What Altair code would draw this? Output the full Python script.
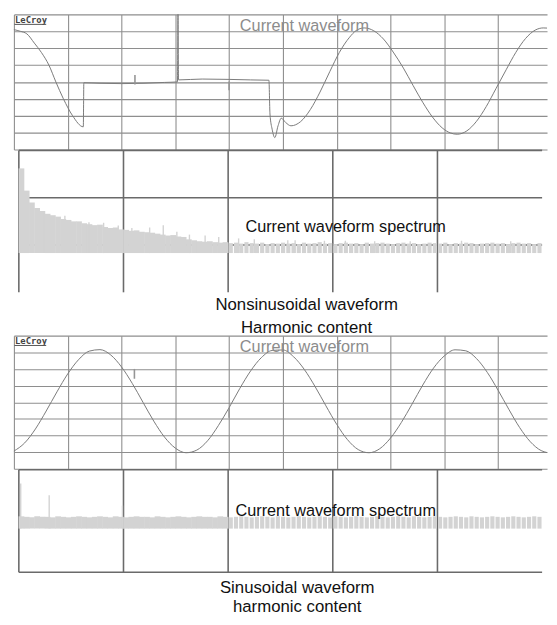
import altair as alt
import pandas as pd

# ---------------- data (oscilloscope screen divisions) ----------------
# Top trace: non-sinusoidal current waveform
wave1_x = [0.0, 0.12, 0.24, 0.38, 0.51, 0.65, 0.78, 0.92, 1.09, 1.29,
           1.30, 1.6, 2.0, 2.4, 2.8, 3.04, 3.05, 3.06, 3.5, 4.0, 4.4, 4.74,
           4.76, 4.80, 4.85, 4.91, 4.97, 5.05, 5.15,
           5.33, 5.51, 5.69, 5.87, 6.05, 6.24, 6.36, 6.51,
           6.69, 6.87, 7.05, 7.24, 7.42, 7.6, 7.78, 7.96, 8.11, 8.24,
           8.42, 8.6, 8.78, 8.96, 9.15, 9.33, 9.51, 9.69, 9.84, 9.91]
wave1_y = [3.1, 3.0, 2.85, 2.3, 1.75, 1.0, 0.0, -1.0, -2.0, -2.66,
           -0.05, -0.08, -0.1, -0.08, -0.03, 0.0, 4.0, 0.12, 0.17, 0.15, 0.12, 0.1,
           -1.9, -2.8, -3.3, -2.6, -2.15, -2.4, -2.6,
           -2.35, -1.64, -0.6, 0.6, 1.75, 2.65, 3.04, 3.2,
           3.03, 2.54, 1.77, 0.82, -0.21, -1.21, -2.08, -2.72, -3.02, -3.1,
           -2.9, -2.33, -1.46, -0.4, 0.72, 1.75, 2.57, 3.07, 3.2, 3.19]

# Lower trace: sinusoidal current waveform
wave2_x = [0.0, 0.2, 0.4, 0.6, 0.8, 1.0, 1.2, 1.4, 1.6, 1.8,
           2.0, 2.2, 2.4, 2.6, 2.8, 3.0, 3.2, 3.4, 3.6, 3.8,
           4.0, 4.2, 4.4, 4.6, 4.8, 5.0, 5.2, 5.4, 5.6, 5.8,
           6.0, 6.2, 6.4, 6.6, 6.8, 7.0, 7.2, 7.4, 7.6, 7.8,
           8.0, 8.2, 8.4, 8.6, 8.8, 9.0, 9.2, 9.4, 9.6, 9.8, 9.91]
wave2_y = [-2.94, -2.45, -1.61, -0.53, 0.62, 1.70, 2.55, 3.07, 3.16, 2.84,
           2.12, 1.13, -0.01, -1.14, -2.10, -2.76, -3.04, -2.88, -2.32, -1.41,
           -0.33, 0.83, 1.88, 2.68, 3.11, 3.14, 2.73, 1.96, 0.93, -0.22,
           -1.33, -2.25, -2.85, -3.04, -2.80, -2.16, -1.23, -0.12, 1.03, 2.05,
           2.78, 3.15, 3.09, 2.62, 1.79, 0.72, -0.43, -1.52, -2.38, -2.91, -3.03]

# Cursor marks on the traces
cursor1_x = [2.25, 4.0]
cursor1_top = [0.41, 0.02]
cursor1_bot = [-0.15, -0.49]
cursor2_x = [2.24, 4.0]
cursor2_top = [2.0, -0.35]
cursor2_bot = [1.41, -0.94]

# Spectra: 100 frequency bins across 5 screen divisions
spec_bins = [round(0.025 + 0.05 * i, 3) for i in range(100)]
spec1_level = [2.62, 2.15, 1.9, 1.78, 1.72, 1.66, 1.63, 1.6, 1.55, 1.53,
               1.5, 1.5, 1.46, 1.44, 1.42, 1.43, 1.38, 1.36, 1.37, 1.33,
               1.32, 1.3, 1.31, 1.28, 1.27, 1.26, 1.24, 1.22, 1.2, 1.21,
               1.18, 1.17, 1.12, 1.1, 1.08, 1.07, 1.08, 1.06, 1.05, 1.06,
               1.04, 1.05, 1.03, 1.06, 1.04, 1.03, 1.05, 1.02, 1.04, 1.03,
               1.05, 1.03, 1.04, 1.02, 1.05, 1.03, 1.04, 1.06, 1.03, 1.04,
               1.02, 1.04, 1.05, 1.03, 1.04, 1.02, 1.05, 1.03, 1.04, 1.05,
               1.03, 1.02, 1.04, 1.05, 1.03, 1.04, 1.02, 1.03, 1.05, 1.04,
               1.03, 1.05, 1.02, 1.04, 1.03, 1.05, 1.04, 1.02, 1.03, 1.04,
               1.05, 1.03, 1.04, 1.02, 1.04, 1.05, 1.03, 1.04, 1.02, 1.04]
spec1_floor = 0.83
spec1_spike_f = [0.24, 0.44, 0.67, 0.81, 0.95, 1.08, 1.25, 1.38, 1.51, 1.63,
                 1.78, 1.91, 2.1, 2.25, 2.57, 2.64, 2.92, 3.12, 3.4, 3.74, 4.23, 4.7]
spec1_spike_v = [1.68, 1.62, 1.48, 1.47, 1.41, 1.36, 1.37, 1.42, 1.28, 1.22,
                 1.2, 1.17, 1.14, 1.12, 1.1, 1.1, 1.09, 1.09, 1.08, 1.08, 1.09, 1.08]

spec2_level = [1.09, 1.08, 1.07, 1.09, 1.08, 1.08, 1.07, 1.09, 1.08, 1.07,
               1.08, 1.09, 1.08, 1.07, 1.08, 1.09, 1.08, 1.07, 1.09, 1.08,
               1.07, 1.08, 1.09, 1.08, 1.08, 1.07, 1.09, 1.08, 1.07, 1.08,
               1.09, 1.08, 1.07, 1.08, 1.09, 1.08, 1.08, 1.07, 1.09, 1.08,
               1.07, 1.08, 1.09, 1.08, 1.07, 1.08, 1.09, 1.08, 1.07, 1.09,
               1.08, 1.07, 1.08, 1.09, 1.08, 1.07, 1.08, 1.09, 1.08, 1.07,
               1.09, 1.08, 1.07, 1.08, 1.09, 1.08, 1.07, 1.08, 1.09, 1.08,
               1.07, 1.08, 1.09, 1.08, 1.07, 1.09, 1.08, 1.07, 1.08, 1.09,
               1.08, 1.07, 1.08, 1.09, 1.08, 1.07, 1.09, 1.08, 1.07, 1.08,
               1.09, 1.08, 1.07, 1.08, 1.09, 1.08, 1.07, 1.08, 1.09, 1.08]
spec2_floor = 0.85
spec2_spike_f = [0.018, 0.29, 0.99]
spec2_spike_v = [1.73, 1.5, 1.3]

# grid divisions
wave_grid_x = [0, 1, 2, 3, 4, 5, 6, 7, 8, 9]
wave_grid_y = [-4, -3, -2, -1, 0, 1, 2, 3, 4]
spec_grid_f = [0, 1, 2, 3, 4]
spec1_grid_v = [1, 2, 3]
spec2_grid_v = [0, 2]

title1_lines = ["Nonsinusoidal waveform", "Harmonic content"]
title2_lines = ["Sinusoidal waveform", "harmonic content"]

# ---------------- styling ----------------
FONT = "Liberation Sans"
PLOT_W = 541
SPEC_GRAY = "#d3d3d3"
GRID_LIGHT = "#8e8e8e"
GRID_DARK = "#6a6a6a"


def grid_axis(vals):
    return alt.Axis(values=vals, grid=True, gridColor=GRID_LIGHT, gridWidth=1.1,
                    gridOpacity=1, labels=False, ticks=False, domain=False,
                    title=None, minExtent=0, maxExtent=0)


def wave_panel(xs, ys, cx, ctop, cbot, height):
    X = alt.X("x:Q", scale=alt.Scale(domain=[0, 9.91], nice=False, zero=False),
              axis=grid_axis(wave_grid_x))
    Y = alt.Y("y:Q", scale=alt.Scale(domain=[-4, 4], nice=False, zero=False),
              axis=grid_axis(wave_grid_y))
    line = alt.Chart(pd.DataFrame({"x": xs, "y": ys})).mark_line(
        color="#7a7a7a", strokeWidth=1.0, interpolate="monotone").encode(x=X, y=Y)
    cur = alt.Chart(pd.DataFrame({"x": cx, "y": ctop, "y2": cbot})).mark_rule(
        color="#959595", strokeWidth=1.6).encode(x=X, y=Y, y2="y2:Q")
    label = alt.Chart(pd.DataFrame({"x": [4.2], "y": [3.0], "t": ["Current waveform"]})).mark_text(
        align="left", baseline="alphabetic", font=FONT, fontSize=16.5, color="#8c8c8c"
    ).encode(x=X, y=Y, text="t:N")
    brand = alt.Chart(pd.DataFrame({"x": [0.02], "y": [3.47], "t": ["LeCroy"]})).mark_text(
        align="left", baseline="alphabetic", font="DejaVu Sans Mono", fontSize=9,
        fontWeight="bold", color="#444444"
    ).encode(x=X, y=Y, text="t:N")
    underline = alt.Chart(pd.DataFrame({"x": [0.01], "x2": [0.6], "y": [3.41]})).mark_rule(
        color="#555555", strokeWidth=1).encode(x=X, x2="x2:Q", y=Y)
    return alt.layer(line, cur, label, brand, underline).properties(width=PLOT_W, height=height)


def spec_panel(levels, floor, sf, sv, ytop, ybottom, hgrid_vals, height,
               tx, ty, t_lines, t_x, t_y):
    X = alt.X("f:Q", scale=alt.Scale(domain=[0, 5], nice=False, zero=False), axis=None)
    Y = alt.Y("v:Q", scale=alt.Scale(domain=[ybottom, ytop], nice=False, zero=False), axis=None)
    vg = pd.DataFrame({"f": spec_grid_f})
    vg["v"] = 0
    vg["v2"] = ytop
    vgrid = alt.Chart(vg).mark_rule(color=GRID_DARK, strokeWidth=1.6).encode(
        x=X, y=Y, y2="v2:Q")
    hg = pd.DataFrame({"v": hgrid_vals})
    hg["f"] = 0
    hg["f2"] = 5
    hgrid = alt.Chart(hg).mark_rule(color=GRID_DARK, strokeWidth=1.6).encode(
        x=X, x2="f2:Q", y=Y)
    df = pd.DataFrame({"f": spec_bins, "v": levels})
    df["lo"] = floor
    solid = alt.Chart(df.iloc[:40]).mark_bar(color=SPEC_GRAY, size=5.8).encode(
        x=X, y=Y, y2="lo:Q")
    band = alt.Chart(df.iloc[40:]).mark_bar(color=SPEC_GRAY, size=4.2).encode(
        x=X, y=Y, y2="lo:Q")
    sp = pd.DataFrame({"f": sf, "v": sv})
    sp["lo"] = floor
    spikes = alt.Chart(sp).mark_rule(color=SPEC_GRAY, strokeWidth=1.4).encode(
        x=X, y=Y, y2="lo:Q")
    text = alt.Chart(pd.DataFrame({"f": [tx], "v": [ty], "t": ["Current waveform spectrum"]})).mark_text(
        align="left", baseline="alphabetic", font=FONT, fontSize=16.5, color="#111111"
    ).encode(x=X, y=Y, text="t:N")
    tdf = pd.DataFrame({"v": t_y, "t": t_lines})
    tdf["f"] = t_x
    title = alt.Chart(tdf).mark_text(
        align="center", baseline="alphabetic", font=FONT, fontSize=17, color="#111111"
    ).encode(x=X, y=Y, text="t:N")
    return alt.layer(vgrid, hgrid, solid, band, spikes, text, title).properties(
        width=PLOT_W, height=height)


wA = wave_panel(wave1_x, wave1_y, cursor1_x, cursor1_top, cursor1_bot, 137)
sB = spec_panel(spec1_level, spec1_floor, spec1_spike_f, spec1_spike_v,
                3, -0.896, spec1_grid_v, 187, 2.165, 1.27,
                title1_lines, 2.75, [-0.375, -0.854])
wC = wave_panel(wave2_x, wave2_y, cursor2_x, cursor2_top, cursor2_bot, 135)
sD = spec_panel(spec2_level, spec2_floor, spec2_spike_f, spec2_spike_v,
                2, -0.827, spec2_grid_v, 147, 2.07, 1.1,
                title2_lines, 2.66, [-0.404, -0.769])

chart = alt.vconcat(wA, sB, wC, sD, spacing=0).properties(
    padding={"left": 4, "right": 0, "top": 0, "bottom": 0}
).configure_view(stroke=None)

chart.save("out.html", embed_options={"renderer": "svg", "actions": False})
